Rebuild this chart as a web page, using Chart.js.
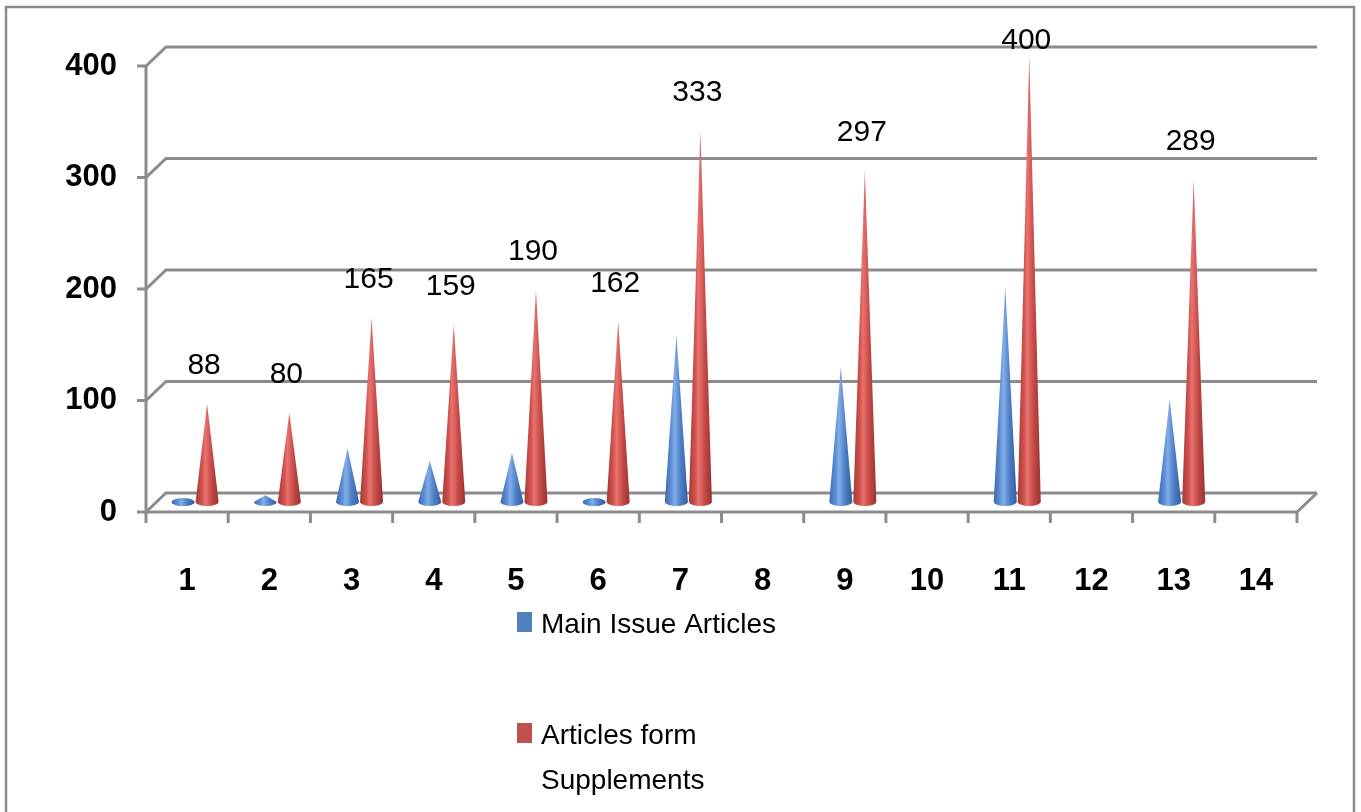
<!DOCTYPE html>
<html>
<head>
<meta charset="utf-8">
<script src="https://cdn.jsdelivr.net/npm/chart.js@4.4.0/dist/chart.umd.min.js"></script>
<style>
  html, body { margin: 0; padding: 0; background: #ffffff; }
  #wrap { position: relative; width: 1361px; height: 812px; overflow: hidden; }
  canvas { position: absolute; left: 0; top: 0; }
</style>
</head>
<body>
<div id="wrap"><canvas id="c" width="1361" height="812"></canvas></div>
<script>
// ---- data ----
const categories = ['1','2','3','4','5','6','7','8','9','10','11','12','13','14'];
const mainIssueArticles = [2, 6, 48, 37, 44, 2, 150, null, 121, null, 193, null, 92, null];
const supplementArticles = [88, 80, 165, 159, 190, 162, 333, null, 297, null, 400, null, 289, null];
const yTickValues = [0, 100, 200, 300, 400];
const seriesNames = ['Main Issue Articles', 'Articles form Supplements'];
const legendLines = [['Main Issue Articles'], ['Articles form', 'Supplements']];

const FONT = "'Liberation Sans', Arial, sans-serif";
const GRID = '#8c8c8c';
const BACK_DX = 20, BACK_DY = -19;   // back wall offset
const CONE_DX = 8, CONE_DY = -10;    // cones sit mid depth

const coneColors = [
  ['#3a68ad', '#5e90d8', '#82aee8', '#4b7cc4', '#335f9f'],
  ['#a63a37', '#d0524e', '#ea726e', '#c34945', '#9a3230']
];

function drawCone(ctx, x, base, tip, w, cols) {
  const r = w / 2, ry = 4;
  const g = ctx.createLinearGradient(x - r, 0, x + r, 0);
  g.addColorStop(0, cols[0]);
  g.addColorStop(0.28, cols[1]);
  g.addColorStop(0.42, cols[2]);
  g.addColorStop(0.7, cols[3]);
  g.addColorStop(1, cols[4]);
  ctx.save();
  ctx.fillStyle = g;
  ctx.beginPath();
  ctx.moveTo(x - r, base);
  ctx.lineTo(x, Math.min(tip, base - 1));
  ctx.lineTo(x + r, base);
  ctx.ellipse(x, base, r, ry, 0, 0, Math.PI, false);
  ctx.closePath();
  ctx.fill();
  if (base - tip < 6) {
    ctx.beginPath();
    ctx.ellipse(x, base, r, ry, 0, 0, Math.PI * 2);
    ctx.fill();
  }
  ctx.restore();
}

const scene3d = {
  id: 'scene3d',
  beforeDatasetsDraw(chart) {
    const ctx = chart.ctx, a = chart.chartArea;
    const ys = chart.scales.y;
    ctx.save();
    // outer frame
    ctx.strokeStyle = '#8a8a8a';
    ctx.lineWidth = 2.5;
    ctx.strokeRect(6, 7, 1348, 830);

    ctx.strokeStyle = GRID;
    ctx.lineWidth = 3;
    ctx.lineCap = 'butt';
    // back wall gridlines + diagonals + tick marks
    yTickValues.forEach(v => {
      const y = ys.getPixelForValue(v);
      ctx.beginPath();
      ctx.moveTo(a.left - 9, y);
      ctx.lineTo(a.left, y);
      ctx.lineTo(a.left + BACK_DX, y + BACK_DY);
      ctx.lineTo(a.right + BACK_DX, y + BACK_DY);
      ctx.stroke();
    });
    // floor right edge and front edge
    const y0 = ys.getPixelForValue(0);
    ctx.beginPath();
    ctx.moveTo(a.right + BACK_DX, y0 + BACK_DY);
    ctx.lineTo(a.right, y0);
    ctx.lineTo(a.left, y0);
    ctx.stroke();
    // vertical axis
    ctx.beginPath();
    ctx.moveTo(a.left, ys.getPixelForValue(400));
    ctx.lineTo(a.left, y0);
    ctx.stroke();
    // x tick marks at category boundaries
    const step = (a.right - a.left) / categories.length;
    for (let i = 0; i <= categories.length; i++) {
      const x = a.left + i * step;
      ctx.beginPath();
      ctx.moveTo(x, y0);
      ctx.lineTo(x, y0 + 11);
      ctx.stroke();
    }
    ctx.restore();
  },
  afterDatasetsDraw(chart) {
    const ctx = chart.ctx, ys = chart.scales.y;
    const base = ys.getPixelForValue(0) + CONE_DY;
    chart.data.datasets.forEach((ds, di) => {
      const meta = chart.getDatasetMeta(di);
      meta.data.forEach((bar, i) => {
        const v = ds.data[i];
        if (v === null || v === undefined) return;
        const tip = ys.getPixelForValue(v) + CONE_DY;
        drawCone(ctx, bar.x + CONE_DX, base, tip, bar.width, coneColors[di]);
      });
    });
    // data labels for supplements
    const meta = chart.getDatasetMeta(1);
    ctx.save();
    ctx.fillStyle = '#000';
    ctx.font = '30px ' + FONT;
    ctx.textAlign = 'center';
    ctx.textBaseline = 'middle';
    meta.data.forEach((bar, i) => {
      const v = supplementArticles[i];
      if (v === null) return;
      const tip = ys.getPixelForValue(v) + CONE_DY;
      const y = Math.max(tip - 38, chart.chartArea.top - 25);
      ctx.fillText(String(v), bar.x + CONE_DX - 3, y);
    });
    ctx.restore();
  },
  afterDraw(chart) {
    const ctx = chart.ctx;
    const items = [
      { color: '#4f81bd', top: 612, lines: legendLines[0] },
      { color: '#c0504d', top: 723, lines: legendLines[1] }
    ];
    ctx.save();
    ctx.font = '28px ' + FONT;
    ctx.textAlign = 'left';
    ctx.textBaseline = 'alphabetic';
    items.forEach(it => {
      ctx.fillStyle = it.color;
      ctx.fillRect(517, it.top, 15, 20);
      ctx.fillStyle = '#000';
      it.lines.forEach((ln, k) => ctx.fillText(ln, 541, it.top + 21 + k * 45));
    });
    ctx.restore();
  }
};

new Chart(document.getElementById('c'), {
  type: 'bar',
  data: {
    labels: categories,
    datasets: [
      { label: seriesNames[0], data: mainIssueArticles, backgroundColor: 'rgba(0,0,0,0)', borderWidth: 0 },
      { label: seriesNames[1], data: supplementArticles, backgroundColor: 'rgba(0,0,0,0)', borderWidth: 0 }
    ]
  },
  options: {
    responsive: false,
    animation: false,
    devicePixelRatio: 1,
    categoryPercentage: 0.584,
    barPercentage: 0.96,
    layout: { padding: { left: 0, top: 66, right: 64, bottom: 0 } },
    plugins: { legend: { display: false }, tooltip: { enabled: false } },
    scales: {
      x: {
        grid: { display: false, drawTicks: false },
        border: { display: false },
        ticks: { color: '#000', font: { family: FONT, size: 31, weight: 'bold' }, padding: 51, maxRotation: 0, autoSkip: false },
        afterFit(s) { s.height = 300; }
      },
      y: {
        min: 0, max: 400,
        afterBuildTicks(s) { s.ticks = yTickValues.map(v => ({ value: v })); },
        grid: { display: false, drawTicks: false },
        border: { display: false },
        ticks: { color: '#000', font: { family: FONT, size: 31, weight: 'bold' }, padding: 29 },
        afterFit(s) { s.width = 146; }
      }
    }
  },
  plugins: [scene3d]
});
</script>
</body>
</html>
